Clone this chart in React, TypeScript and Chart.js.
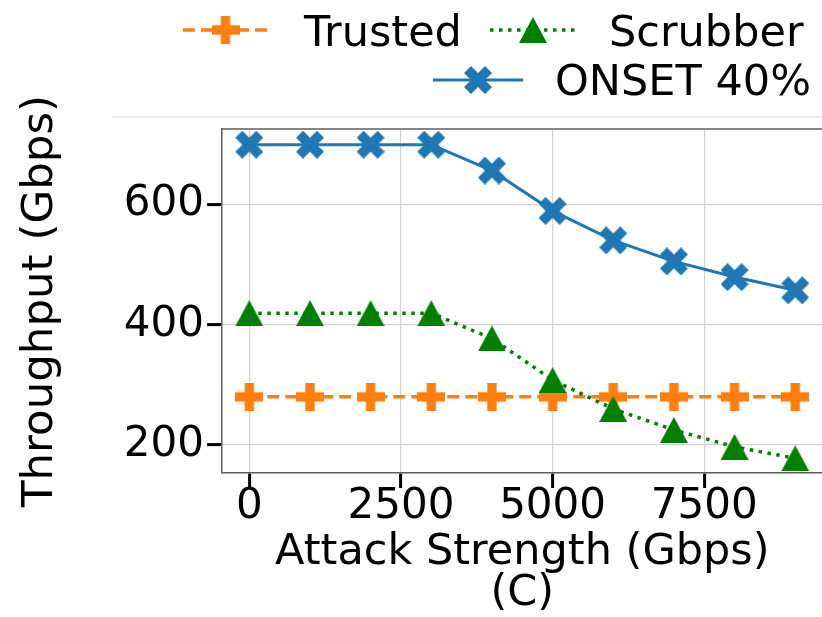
import React, { useEffect, useRef } from 'react';
import { Chart, registerables } from 'chart.js';

Chart.register(...registerables);

const attackStrength = [0, 1000, 2000, 3000, 4000, 5000, 6000, 7000, 8000, 9000];
const trustedValues = [280, 280, 280, 280, 280, 280, 280, 280, 280, 280];
const scrubberValues = [419, 419, 419, 419, 377, 308, 260, 225, 197, 178];
const onsetValues = [699, 699, 699, 699, 656, 589, 540, 505, 479, 457];
const xTickValues = [0, 2500, 5000, 7500];
const yTickValues = [200, 400, 600];
const seriesLabels = ['Trusted', 'Scrubber', 'ONSET 40%'];
const xTitleLines = ['Attack Strength (Gbps)', '(C)'];
const yTitle = 'Throughput (Gbps)';

const FONT = "'DejaVu Sans', sans-serif";
const ORANGE = '#ff7f0e';
const GREEN = '#008000';
const BLUE = '#1f77b4';

function makePlus(color: string, s = 28) {
  const c = document.createElement('canvas');
  c.width = s; c.height = s;
  const g = c.getContext('2d')!;
  const a = s / 3;
  g.fillStyle = color;
  g.fillRect(a, 0, a, s);
  g.fillRect(0, a, s, a);
  return c;
}

function makeX(color: string, s = 28) {
  const c = document.createElement('canvas');
  c.width = s; c.height = s;
  const g = c.getContext('2d')!;
  const pts = [[0.25, 0], [0.5, 0.25], [0.75, 0], [1, 0.25], [0.75, 0.5], [1, 0.75], [0.75, 1], [0.5, 0.75], [0.25, 1], [0, 0.75], [0.25, 0.5], [0, 0.25]];
  g.fillStyle = color;
  g.beginPath();
  pts.forEach(([px, py], i) => { if (i === 0) g.moveTo(px * s, py * s); else g.lineTo(px * s, py * s); });
  g.closePath();
  g.fill();
  return c;
}

function makeTriangle(color: string, w = 28, h = 26) {
  const c = document.createElement('canvas');
  c.width = w; c.height = h;
  const g = c.getContext('2d')!;
  g.fillStyle = color;
  g.beginPath();
  g.moveTo(w / 2, 0);
  g.lineTo(w, h);
  g.lineTo(0, h);
  g.closePath();
  g.fill();
  return c;
}

const legendSlots = [
  { x0: 183, x1: 268, y: 30, tx: 304, ty: 46 },
  { x0: 490, x1: 576, y: 30, tx: 609, ty: 46 },
  { x0: 433, x1: 523, y: 80, tx: 555, ty: 95 },
];

const decorPlugin = {
  id: 'decor',
  afterDraw(chart: any) {
    const { ctx, chartArea } = chart;
    ctx.save();
    ctx.strokeStyle = '#e3e3e3';
    ctx.lineWidth = 1.5;
    ctx.beginPath();
    ctx.moveTo(112, 117);
    ctx.lineTo(chart.width, 117);
    ctx.stroke();
    ctx.strokeStyle = '#5e5e5e';
    ctx.lineWidth = 1.5;
    ctx.beginPath();
    ctx.moveTo(chartArea.left, chartArea.top);
    ctx.lineTo(chartArea.right, chartArea.top);
    ctx.stroke();
    chart.data.datasets.forEach((ds: any, i: number) => {
      const slot = legendSlots[i];
      ctx.strokeStyle = ds.borderColor;
      ctx.lineWidth = ds.borderWidth;
      ctx.setLineDash(ds.borderDash || []);
      ctx.lineCap = 'butt';
      ctx.beginPath();
      ctx.moveTo(slot.x0, slot.y);
      ctx.lineTo(slot.x1, slot.y);
      ctx.stroke();
      ctx.setLineDash([]);
      const img = ds.pointStyle as HTMLCanvasElement;
      const cx = (slot.x0 + slot.x1) / 2;
      ctx.drawImage(img, cx - img.width / 2, slot.y - img.height / 2);
      ctx.fillStyle = '#000';
      ctx.font = `43px ${FONT}`;
      ctx.textAlign = 'left';
      ctx.textBaseline = 'alphabetic';
      ctx.fillText(ds.label, slot.tx, slot.ty);
    });
    ctx.restore();
  },
};

export default function App() {
  const ref = useRef<HTMLCanvasElement>(null);
  useEffect(() => {
    if (!ref.current) return;
    const toPts = (vals: number[]) => attackStrength.map((x, i) => ({ x, y: vals[i] }));
    const chart = new Chart(ref.current, {
      type: 'line',
      data: {
        datasets: [
          {
            label: seriesLabels[0],
            data: toPts(trustedValues),
            borderColor: ORANGE,
            backgroundColor: ORANGE,
            borderWidth: 3.5,
            borderDash: [12, 6],
            pointStyle: makePlus(ORANGE) as any,
            pointRadius: 14,
            order: 3,
          },
          {
            label: seriesLabels[1],
            data: toPts(scrubberValues),
            borderColor: GREEN,
            backgroundColor: GREEN,
            borderWidth: 3.5,
            borderDash: [3.5, 5.5],
            pointStyle: makeTriangle(GREEN) as any,
            pointRadius: 14,
            order: 2,
          },
          {
            label: seriesLabels[2],
            data: toPts(onsetValues),
            borderColor: BLUE,
            backgroundColor: BLUE,
            borderWidth: 3,
            pointStyle: makeX(BLUE) as any,
            pointRadius: 14,
            order: 1,
          },
        ],
      },
      options: {
        animation: false,
        responsive: false,
        devicePixelRatio: 1,
        layout: { padding: { top: 129, right: 14, left: 0, bottom: 0 } },
        plugins: { legend: { display: false }, tooltip: { enabled: false } },
        elements: { line: { tension: 0 } },
        scales: {
          x: {
            type: 'linear',
            min: -450,
            max: 9450,
            afterBuildTicks: (s: any) => { s.ticks = xTickValues.map((v) => ({ value: v })); },
            afterFit: (s: any) => { s.height = 144; },
            ticks: {
              autoSkip: false,
              maxRotation: 0,
              color: '#000',
              padding: -2,
              font: { family: FONT, size: 42, lineHeight: 1 },
              callback: (v: any) => String(v),
            },
            grid: { color: '#d2d2d2', lineWidth: 1.2, tickColor: '#000', tickWidth: 3, tickLength: 15 },
            border: { color: '#5e5e5e', width: 1.5 },
            title: {
              display: true,
              text: xTitleLines,
              color: '#000',
              font: { family: FONT, size: 43, lineHeight: 41 / 43 },
              padding: { top: 0, bottom: 3 },
            },
          },
          y: {
            type: 'linear',
            min: 153.5,
            max: 725,
            afterBuildTicks: (s: any) => { s.ticks = yTickValues.map((v) => ({ value: v })); },
            afterFit: (s: any) => { s.width = 222; },
            ticks: {
              color: '#000',
              padding: 3,
              font: { family: FONT, size: 42, lineHeight: 1 },
              callback: (v: any) => String(v),
            },
            grid: { color: '#d2d2d2', lineWidth: 1.2, tickColor: '#000', tickWidth: 3, tickLength: 15 },
            border: { color: '#5e5e5e', width: 1.5 },
            title: {
              display: true,
              text: yTitle,
              color: '#000',
              font: { family: FONT, size: 43.5, lineHeight: 1 },
              padding: { top: 19, bottom: 0 },
            },
          },
        },
      },
      plugins: [decorPlugin],
    });
    return () => chart.destroy();
  }, []);
  return (
    <div style={{ position: 'absolute', left: 0, top: 0, width: 822, height: 617, overflow: 'hidden', background: '#fff' }}>
      <canvas ref={ref} width={840} height={617} style={{ display: 'block' }} />
    </div>
  );
}
